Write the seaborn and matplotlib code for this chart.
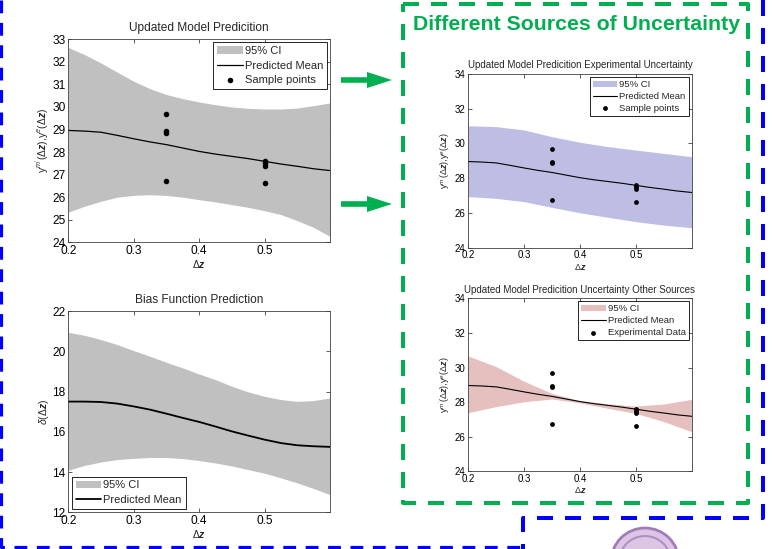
import numpy as np
import pandas as pd
import matplotlib
matplotlib.use("Agg")
import matplotlib.pyplot as plt
import seaborn as sns
from matplotlib.patches import Polygon, Circle

sns.set_style("ticks")
plt.rcParams['font.family'] = ['Liberation Sans', 'DejaVu Sans']
plt.rcParams['mathtext.fontset'] = 'custom'
plt.rcParams['mathtext.rm'] = 'Liberation Sans'
plt.rcParams['mathtext.it'] = 'Liberation Sans:italic'
plt.rcParams['mathtext.bf'] = 'Liberation Sans:bold:italic'

# ---------------- data ----------------
dz_fine = [0.2, 0.225, 0.25, 0.275, 0.3, 0.325, 0.35, 0.375, 0.4,
           0.425, 0.45, 0.475, 0.5, 0.525, 0.55, 0.575, 0.6]

model_mean = [28.96, 28.93, 28.88, 28.74, 28.59, 28.45, 28.33, 28.18, 28.03,
              27.91, 27.81, 27.71, 27.59, 27.47, 27.37, 27.26, 27.18]
model_upper = [32.64, 32.32, 31.95, 31.54, 31.14, 30.81, 30.55, 30.37, 30.22,
               30.10, 30.0, 29.94, 29.91, 29.91, 29.95, 30.06, 30.18]
model_lower = [25.34, 25.6, 25.82, 26.0, 26.08, 26.11, 26.08, 26.0, 25.89,
               25.79, 25.67, 25.55, 25.40, 25.23, 24.96, 24.66, 24.26]

bias_mean = [17.5, 17.5, 17.48, 17.4, 17.26, 17.1, 16.9, 16.69, 16.49,
             16.26, 16.02, 15.81, 15.61, 15.44, 15.33, 15.28, 15.25]
bias_upper = [20.94, 20.79, 20.58, 20.33, 20.03, 19.75, 19.45, 19.17, 18.87,
              18.59, 18.26, 17.98, 17.76, 17.6, 17.51, 17.55, 17.68]
bias_lower = [14.09, 14.33, 14.5, 14.62, 14.68, 14.72, 14.72, 14.67, 14.57,
              14.45, 14.3, 14.12, 13.94, 13.71, 13.46, 13.18, 12.88]

dz = [0.2, 0.25, 0.3, 0.35, 0.4, 0.45, 0.5, 0.55, 0.6]
exp_upper = [31.02, 30.97, 30.78, 30.39, 30.07, 29.82, 29.62, 29.43, 29.24]
exp_lower = [26.94, 26.84, 26.65, 26.32, 26.01, 25.75, 25.5, 25.3, 25.15]

oth_upper = [30.66, 30.05, 29.2, 28.5, 28.08, 27.9, 27.77, 27.89, 28.16]
oth_lower = [27.39, 27.74, 28.02, 28.18, 27.95, 27.64, 27.35, 26.87, 26.29]

sample_x = [0.35, 0.35, 0.35, 0.35, 0.5, 0.5, 0.5, 0.5]
sample_y = [29.67, 28.92, 28.85, 26.73, 27.62, 27.5, 27.37, 26.61]

x_ticks = [0.2, 0.3, 0.4, 0.5]

GRAY = '#c0c0c0'
LAV = '#bebee4'
PINK = '#e6bfbf'
GREEN = '#00b050'
BLUE = '#0000ff'

W, H = 772, 549
fig = plt.figure(figsize=(W / 100, H / 100), dpi=100)
fig.patch.set_facecolor('white')

# overlay for slide decorations (pixel coordinates, y downward)
bg = fig.add_axes([0, 0, 1, 1])
bg.set_xlim(0, W)
bg.set_ylim(H, 0)
bg.axis('off')


def px_axes(l, t, r, b):
    return fig.add_axes([l / W, (H - b) / H, (r - l) / W, (b - t) / H])


def style_axes(ax, ylim, yticks, fs):
    ax.set_xlim(0.2, 0.6)
    ax.set_ylim(*ylim)
    ax.set_xticks(x_ticks)
    ax.set_xticklabels([f"{t:.1f}" for t in x_ticks])
    ax.set_yticks(yticks)
    ax.tick_params(direction='in', top=True, right=True, length=3, width=0.6,
                   labelsize=fs, pad=2, colors='#404040', labelcolor='black')
    for s in ax.spines.values():
        s.set_linewidth(0.6)
        s.set_color('#404040')


def legend(ax, loc, fs, handlelength, bpad, lspace):
    lg = ax.legend(loc=loc, fontsize=fs, frameon=True, fancybox=False,
                   framealpha=1, edgecolor='black', handlelength=handlelength,
                   borderpad=0.35, labelspacing=lspace, handletextpad=0.2,
                   borderaxespad=bpad, markerscale=1)
    lg.get_frame().set_linewidth(0.6)
    return lg


ylab = r"y$^{m'}$($\Delta\mathbf{z}$),y$^{e}$($\Delta\mathbf{z}$)"
xlab = r"$\Delta\mathbf{z}$"

# ---- top-left ----
ax1 = px_axes(68.3, 39.3, 330, 242.3)
ax1.fill_between(dz_fine, model_lower, model_upper, color=GRAY, lw=0, label='95% CI')
sns.lineplot(x=dz_fine, y=model_mean, ax=ax1, color='black', lw=0.9, label='Predicted Mean')
sns.scatterplot(x=sample_x, y=sample_y, ax=ax1, color='black', s=16, edgecolor='black',
                linewidth=0, label='Sample points', zorder=5)
style_axes(ax1, (24, 33), range(24, 34), 8.6)
ax1.set_title('Updated Model Predicition', fontsize=8.6, pad=6)
ax1.set_ylabel(ylab, fontsize=7.5, labelpad=1)
ax1.set_xlabel(xlab, fontsize=7.5, labelpad=1)
legend(ax1, 'upper right', 8, 2.3, 0.25, 0.42)

# ---- bottom-left ----
ax2 = px_axes(68.3, 311, 330, 512.3)
ax2.fill_between(dz_fine, bias_lower, bias_upper, color=GRAY, lw=0, label='95% CI')
sns.lineplot(x=dz_fine, y=bias_mean, ax=ax2, color='black', lw=1.3, label='Predicted Mean')
style_axes(ax2, (12, 22), range(12, 23, 2), 8.6)
ax2.set_title('Bias Function Prediction', fontsize=8.6, pad=6)
ax2.set_ylabel(r"$\delta(\Delta\mathbf{z})$", fontsize=7.5, labelpad=1)
ax2.set_xlabel(xlab, fontsize=7.5, labelpad=1)
legend(ax2, 'lower left', 8, 2.3, 0.3, 0.42)

# ---- top-right ----
ax3 = px_axes(468.3, 74, 691.7, 247.7)
ax3.fill_between(dz, exp_lower, exp_upper, color=LAV, lw=0, label='95% CI')
sns.lineplot(x=dz_fine, y=model_mean, ax=ax3, color='black', lw=0.8, label='Predicted Mean')
sns.scatterplot(x=sample_x, y=sample_y, ax=ax3, color='black', s=12, edgecolor='black',
                linewidth=0, label='Sample points', zorder=5)
style_axes(ax3, (24, 34), range(24, 35, 2), 7)
ax3.set_title('Updated Model Predicition Experimental Uncertainty', fontsize=7, pad=4)
ax3.set_ylabel(ylab, fontsize=6.5, labelpad=1)
ax3.set_xlabel(xlab, fontsize=6.5, labelpad=1)
legend(ax3, 'upper right', 6.8, 2.6, 0.3, 0.3)

# ---- bottom-right ----
ax4 = px_axes(468.3, 298.3, 691.7, 471.3)
ax4.fill_between(dz, oth_lower, oth_upper, color=PINK, lw=0, label='95% CI')
sns.lineplot(x=dz_fine, y=model_mean, ax=ax4, color='black', lw=0.8, label='Predicted Mean')
sns.scatterplot(x=sample_x, y=sample_y, ax=ax4, color='black', s=12, edgecolor='black',
                linewidth=0, label='Experimental Data', zorder=5)
style_axes(ax4, (24, 34), range(24, 35, 2), 7)
ax4.set_title('Updated Model Predicition Uncertainty Other Sources', fontsize=7, pad=4)
ax4.set_ylabel(ylab, fontsize=6.5, labelpad=1)
ax4.set_xlabel(xlab, fontsize=6.5, labelpad=1)
legend(ax4, 'upper right', 6.8, 2.6, 0.3, 0.3)

# ---------------- slide decorations ----------------
lw_px = 4
lw_pt = lw_px * 0.72
dash = (0, (16 / lw_px, 12 / lw_px))

# green dashed box
bg.plot([403, 748, 748, 403, 403], [4, 4, 503, 503, 4], color=GREEN, lw=lw_pt,
        linestyle=dash, dash_capstyle='butt')
bg.text(413, 25, 'Different Sources of Uncertainty', color=GREEN, fontsize=15.3,
        fontweight='bold', ha='left', va='center')

# blue dashed frames
bg.plot([1, 1, 522], [0, 547, 547], color=BLUE, lw=lw_pt * 0.8, linestyle=dash,
        dash_capstyle='butt')
bg.plot([763, 763, 523, 523], [0, 518, 518, 549], color=BLUE, lw=lw_pt, linestyle=dash,
        dash_capstyle='butt')

# green arrows
for yc in (80, 204):
    pts = [(341, yc - 2.8), (367, yc - 2.8), (367, yc - 8), (392, yc),
           (367, yc + 8), (367, yc + 2.8), (341, yc + 2.8)]
    bg.add_patch(Polygon(pts, closed=True, color=GREEN, lw=0))

# seal (partial)
bg.add_patch(Circle((645, 562), 34, facecolor='#dcc6e4', edgecolor='#a27bbb', lw=2))
bg.add_patch(Circle((645, 562), 26, facecolor='none', edgecolor='#b08fc6', lw=1.5))

fig.savefig('out.png', dpi=100, facecolor='white')
